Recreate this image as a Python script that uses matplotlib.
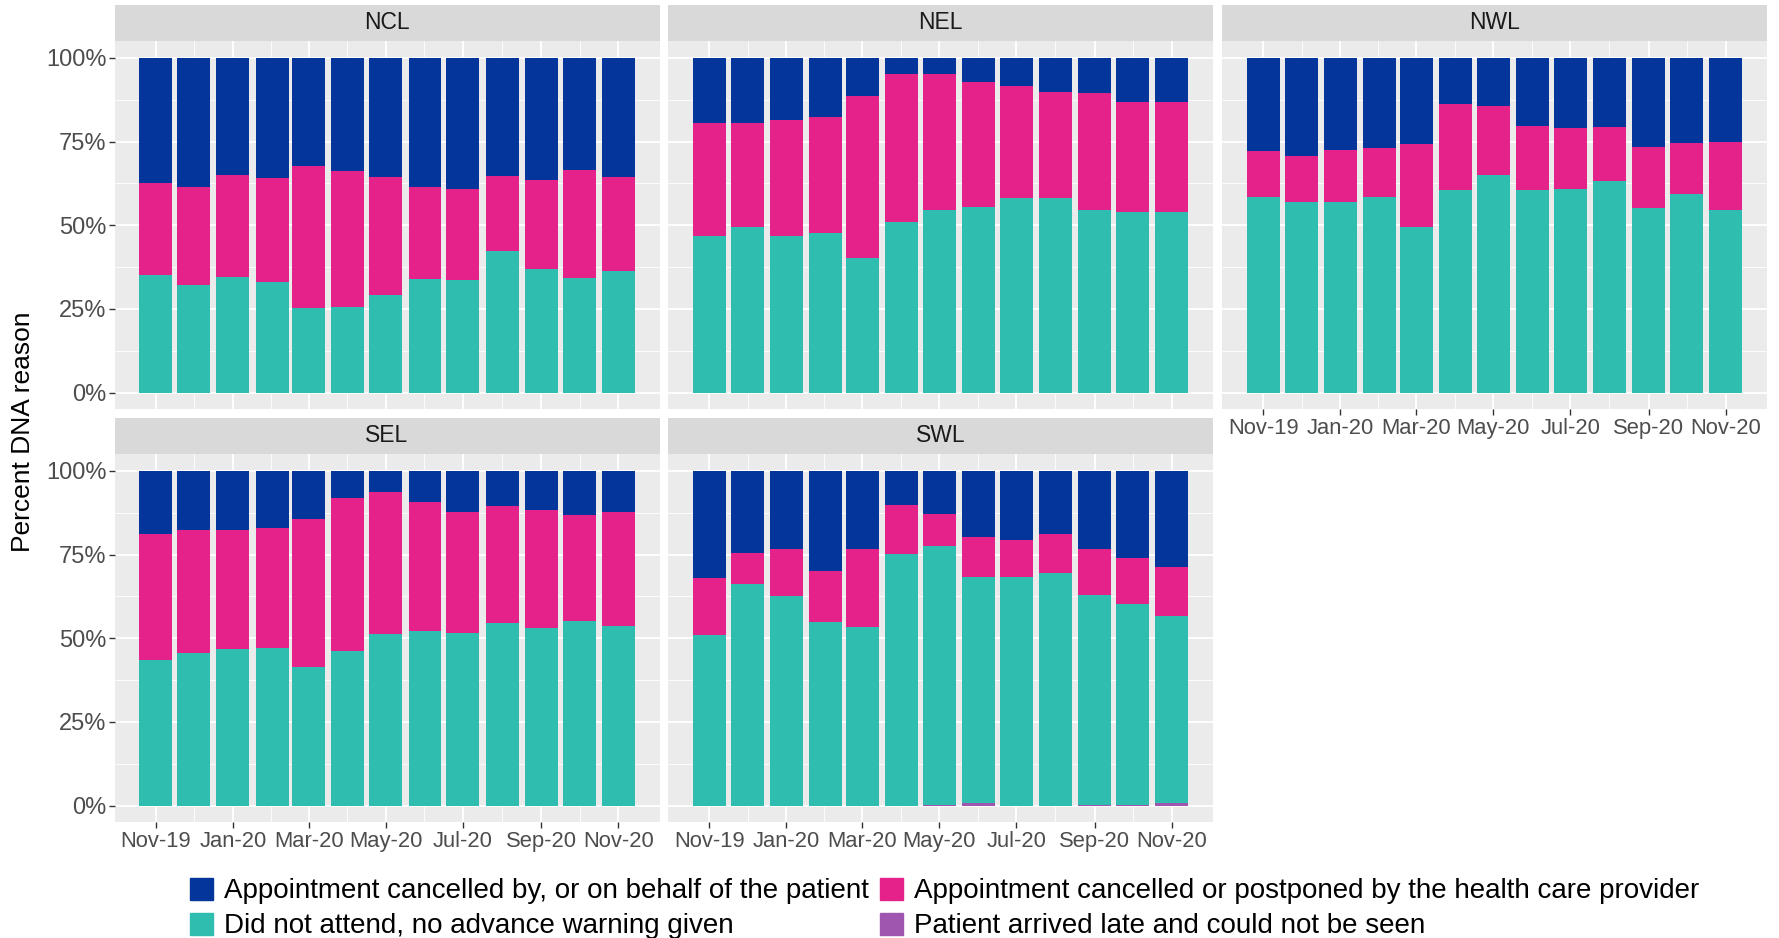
import numpy as np
import pandas as pd
import matplotlib.pyplot as plt
import matplotlib.dates as mdates
from matplotlib.ticker import FixedLocator, FuncFormatter

plt.rcParams['font.family'] = ['Liberation Sans', 'DejaVu Sans']

# ------------------------------------------------------------
# datos (porcentaje de cada motivo por mes)
# ------------------------------------------------------------
months = ['Nov-19', 'Dec-19', 'Jan-20', 'Feb-20', 'Mar-20', 'Apr-20', 'May-20',
          'Jun-20', 'Jul-20', 'Aug-20', 'Sep-20', 'Oct-20', 'Nov-20']
tick_labels = ['Nov-19', 'Jan-20', 'Mar-20', 'May-20', 'Jul-20', 'Sep-20', 'Nov-20']
regions = ['NCL', 'NEL', 'NWL', 'SEL', 'SWL']
series_names = ['Appointment cancelled by, or on behalf of the patient',
                'Appointment cancelled or postponed by the health care provider',
                'Did not attend, no advance warning given',
                'Patient arrived late and could not be seen']

ncl_patient = [37.5, 38.5, 35.1, 35.8, 32.3, 33.7, 35.5, 38.5, 39.1, 35.4, 36.4, 33.6, 35.6]
ncl_provider = [27.4, 29.4, 30.4, 31.1, 42.4, 40.8, 35.4, 27.5, 27.4, 22.2, 26.6, 32.3, 28.0]
ncl_dna = [35.1, 32.1, 34.5, 33.1, 25.3, 25.5, 29.1, 34.0, 33.5, 42.4, 37.0, 34.1, 36.4]
ncl_late = [0, 0, 0, 0, 0, 0, 0, 0, 0, 0, 0, 0, 0]

nel_patient = [19.4, 19.4, 18.4, 17.8, 11.5, 4.8, 4.7, 7.1, 8.3, 10.3, 10.4, 13.2, 13.2]
nel_provider = [33.9, 31.1, 34.8, 34.4, 48.4, 44.3, 40.6, 37.5, 33.5, 31.7, 34.9, 32.7, 32.9]
nel_dna = [46.7, 49.5, 46.8, 47.8, 40.1, 50.9, 54.7, 55.4, 58.2, 58.0, 54.7, 54.1, 53.9]
nel_late = [0, 0, 0, 0, 0, 0, 0, 0, 0, 0, 0, 0, 0]

nwl_patient = [27.9, 29.3, 27.6, 26.8, 25.6, 13.8, 14.4, 20.2, 20.9, 20.6, 26.7, 25.3, 25.2]
nwl_provider = [13.6, 13.9, 15.6, 14.8, 24.9, 25.7, 20.6, 19.3, 18.4, 16.1, 18.2, 15.4, 20.1]
nwl_dna = [58.5, 56.8, 56.8, 58.4, 49.5, 60.5, 65.0, 60.5, 60.7, 63.3, 55.1, 59.3, 54.7]
nwl_late = [0, 0, 0, 0, 0, 0, 0, 0, 0, 0, 0, 0, 0]

sel_patient = [18.7, 17.7, 17.7, 17.1, 14.5, 8.1, 6.4, 9.2, 12.4, 10.6, 11.6, 13.3, 12.4]
sel_provider = [37.9, 36.6, 35.5, 35.7, 44.2, 45.7, 42.4, 38.7, 35.9, 34.9, 35.2, 31.6, 34.0]
sel_dna = [43.4, 45.7, 46.8, 47.2, 41.3, 46.2, 51.2, 52.1, 51.7, 54.5, 53.2, 55.1, 53.6]
sel_late = [0, 0, 0, 0, 0, 0, 0, 0, 0, 0, 0, 0, 0]

swl_patient = [31.9, 24.4, 23.3, 30.0, 23.2, 10.2, 12.8, 19.7, 20.7, 18.8, 23.3, 26.0, 28.6]
swl_provider = [17.0, 9.5, 14.0, 15.2, 23.3, 14.7, 9.7, 11.9, 10.9, 11.8, 13.7, 13.9, 14.7]
swl_dna = [51.1, 66.1, 62.7, 54.8, 53.5, 75.1, 77.2, 67.6, 68.4, 69.4, 62.8, 59.8, 56.0]
swl_late = [0, 0, 0, 0, 0, 0, 0.3, 0.8, 0, 0, 0.2, 0.3, 0.7]

region_data = {
    'NCL': [ncl_patient, ncl_provider, ncl_dna, ncl_late],
    'NEL': [nel_patient, nel_provider, nel_dna, nel_late],
    'NWL': [nwl_patient, nwl_provider, nwl_dna, nwl_late],
    'SEL': [sel_patient, sel_provider, sel_dna, sel_late],
    'SWL': [swl_patient, swl_provider, swl_dna, swl_late],
}

colors = ['#03359A', '#E5218A', '#2EBDAF', '#9E56AE']

# ------------------------------------------------------------
# geometría (estilo facet de ggplot)
# ------------------------------------------------------------
W, H = 1779, 938
fig = plt.figure(figsize=(W/100, H/100), dpi=100)

col_left = [114.6, 668.0, 1222.0]
panel_w = 545.0
row_bottom = [409.3, 822.3]
panel_h = 368.1
strip_h = 36.5

dates = pd.to_datetime(months, format='%b-%y')
tick_dates = pd.to_datetime(tick_labels, format='%b-%y')
bar_w = 0.9 * 29  # días
span = (dates[-1] - dates[0]).days + bar_w
pad = 0.05 * span
x0 = mdates.date2num(dates[0]) - bar_w/2 - pad
x1 = mdates.date2num(dates[-1]) + bar_w/2 + pad
xnum = mdates.date2num(dates)
tnum = mdates.date2num(tick_dates)
minor_x = (tnum[:-1] + tnum[1:]) / 2

for idx, reg in enumerate(regions):
    r, c = divmod(idx, 3)
    left = col_left[c] / W
    bottom = 1 - row_bottom[r] / H
    ax = fig.add_axes([left, bottom, panel_w / W, panel_h / H])
    ax.set_facecolor('#EBEBEB')
    for s in ax.spines.values():
        s.set_visible(False)

    # grid
    for v in [12.5, 37.5, 62.5, 87.5]:
        ax.axhline(v, color='white', lw=0.6, zorder=0)
    for v in [0, 25, 50, 75, 100]:
        ax.axhline(v, color='white', lw=1.3, zorder=0)
    for v in minor_x:
        ax.axvline(v, color='white', lw=0.6, zorder=0)
    for v in tnum:
        ax.axvline(v, color='white', lw=1.3, zorder=0)

    patient, provider, dna, late = [np.array(s, dtype=float) for s in region_data[reg]]
    base = np.zeros(len(months))
    stack = [(late, colors[3]), (dna, colors[2]), (provider, colors[1]), (patient, colors[0])]
    for vals, col in stack:
        ax.bar(xnum, vals, width=bar_w, bottom=base, color=col, lw=0, zorder=2)
        base = base + vals

    ax.set_xlim(x0, x1)
    ax.set_ylim(-5, 105)
    ax.yaxis.set_major_locator(FixedLocator([0, 25, 50, 75, 100]))
    ax.yaxis.set_major_formatter(FuncFormatter(lambda v, p: f'{int(v)}%'))
    ax.xaxis.set_major_locator(FixedLocator(tnum))
    ax.set_xticklabels(tick_labels)
    ax.tick_params(axis='both', length=4, width=1, color='#333333',
                   labelcolor='#4D4D4D', pad=2)
    ax.tick_params(axis='x', labelsize=15.8)
    ax.tick_params(axis='y', labelsize=17)

    if c != 0:
        ax.tick_params(axis='y', left=False, labelleft=False)
    show_x = (r == 1) or (reg == 'NWL')
    if not show_x:
        ax.tick_params(axis='x', bottom=False, labelbottom=False)

    # strip
    sax = fig.add_axes([left, bottom + panel_h / H, panel_w / W, strip_h / H])
    sax.set_facecolor('#D9D9D9')
    sax.set_xticks([])
    sax.set_yticks([])
    for s in sax.spines.values():
        s.set_visible(False)
    sax.text(0.5, 0.5, reg, ha='center', va='center', fontsize=16.5, color='#1A1A1A',
             transform=sax.transAxes)

fig.text(0.0128, 0.540, 'Percent DNA reason', rotation=90, ha='center', va='center',
         fontsize=19, color='black')

# leyenda
handles = [plt.Rectangle((0, 0), 1, 1, color=col) for col in colors]
order = [0, 2, 1, 3]
fig.legend([handles[i] for i in order], [series_names[i] for i in order],
           loc='center', bbox_to_anchor=(0.531, 0.0315), ncol=2, frameon=False,
           fontsize=20, handlelength=0.85, handleheight=0.85, handletextpad=0.4,
           columnspacing=0.37, labelspacing=0.3, borderpad=0)

fig.savefig('out.png', dpi=100)
